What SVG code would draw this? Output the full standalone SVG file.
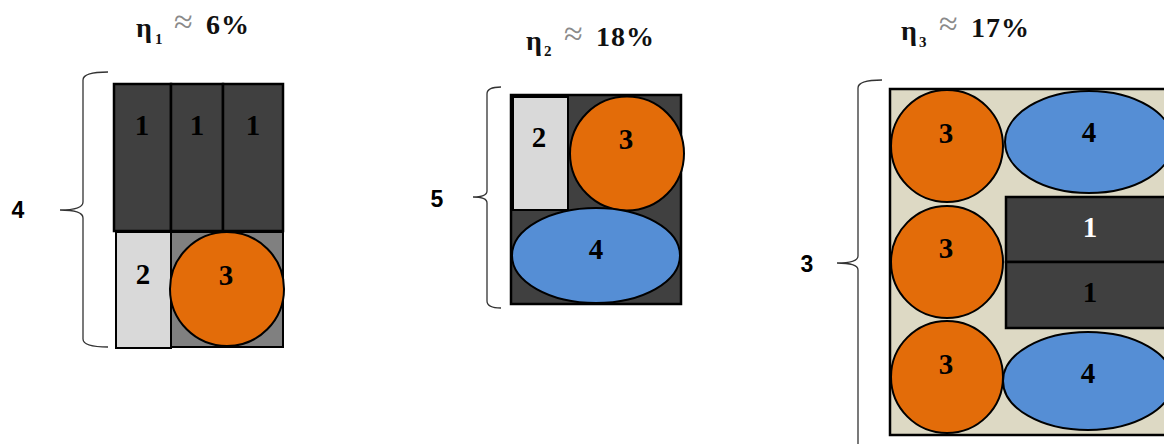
<svg xmlns="http://www.w3.org/2000/svg" width="1164" height="444" viewBox="0 0 1164 444">
<style>
.title{font-family:"Liberation Serif","Times New Roman",serif;font-weight:bold;font-size:28px;fill:#111;letter-spacing:1px}
.sub{font-size:15px}
.approx{fill:#8a8a8a;font-weight:normal;font-size:34px}
.num{font-family:"Liberation Serif","Times New Roman",serif;font-weight:bold;font-size:29px;fill:#000;text-anchor:middle}
.white{fill:#fff}
.side{font-family:"Liberation Sans",Arial,sans-serif;font-weight:bold;font-size:23px;fill:#000;text-anchor:middle}
.dark{fill:#404040;stroke:#000;stroke-width:2.5}
.light{fill:#d9d9d9;stroke:#000;stroke-width:2}
.gray{fill:#808080;stroke:#000;stroke-width:2}
.beige{fill:#ddd9c4;stroke:#000;stroke-width:2.5}
.orange{fill:#e36c09;stroke:#000;stroke-width:2}
.blue{fill:#558ed5;stroke:#000;stroke-width:2}
.brace{fill:none;stroke:#333;stroke-width:1.3}
</style>

<g id="titles">
<text class="title"><tspan x="136" y="37">η</tspan><tspan class="sub" x="155" y="44">1</tspan><tspan class="approx" x="174" y="33">≈</tspan><tspan x="206" y="34">6%</tspan></text>
<text class="title"><tspan x="526" y="50">η</tspan><tspan class="sub" x="544" y="56">2</tspan><tspan class="approx" x="564" y="45">≈</tspan><tspan x="596" y="46">18%</tspan></text>
<text class="title"><tspan x="901" y="40">η</tspan><tspan class="sub" x="919" y="47">3</tspan><tspan class="approx" x="939" y="35">≈</tspan><tspan x="971" y="37">17%</tspan></text>
</g>

<g id="braces">
<path class="brace" d="M108,72 Q83,72 83,80 L83,202 Q83,210 60,210 Q83,210 83,218 L83,339 Q83,347 108,347"/>
<path class="brace" d="M501,87 Q487,87 487,94 L487,191 Q487,197 473,197 Q487,197 487,203 L487,301 Q487,308 501,308"/>
<path class="brace" d="M882,80 Q858,80 858,88 L858,256 Q858,263 837,263 Q858,263 858,270 L858,446"/>
<text class="side" x="18" y="218">4</text>
<text class="side" x="437" y="207">5</text>
<text class="side" x="807" y="272">3</text>
</g>

<g id="panel1">
<rect class="gray" x="171" y="232" width="112" height="115"/>
<rect class="light" x="116" y="232" width="55" height="116"/>
<rect class="dark" x="114" y="84" width="57" height="147"/>
<rect class="dark" x="171" y="84" width="52" height="147"/>
<rect class="dark" x="223" y="84" width="60" height="147"/>
<circle class="orange" cx="227" cy="289" r="57"/>
<text class="num" x="142" y="135">1</text>
<text class="num" x="197" y="135">1</text>
<text class="num" x="253" y="135">1</text>
<text class="num" x="143" y="284">2</text>
<text class="num" x="226" y="285">3</text>
</g>

<g id="panel2">
<rect class="dark" x="511" y="95" width="170" height="209"/>
<rect class="light" x="513" y="97" width="55" height="113"/>
<circle class="orange" cx="627" cy="153.5" r="57"/>
<ellipse class="blue" cx="596" cy="255.5" rx="84" ry="47.5"/>
<text class="num" x="539" y="147">2</text>
<text class="num" x="626" y="149">3</text>
<text class="num" x="596" y="259">4</text>
</g>

<g id="panel3">
<rect class="beige" x="890" y="89" width="290" height="346"/>
<rect class="dark" x="1006" y="197" width="170" height="65"/>
<rect class="dark" x="1006" y="262" width="170" height="66"/>
<circle class="orange" cx="947" cy="146" r="56"/>
<circle class="orange" cx="947" cy="262" r="56"/>
<circle class="orange" cx="947" cy="377" r="56"/>
<ellipse class="blue" cx="1089" cy="142" rx="84" ry="51"/>
<ellipse class="blue" cx="1088" cy="381" rx="85" ry="49"/>
<text class="num" x="946" y="143">3</text>
<text class="num" x="946" y="258">3</text>
<text class="num" x="946" y="374">3</text>
<text class="num" x="1089" y="142">4</text>
<text class="num" x="1088" y="383">4</text>
<text class="num white" x="1090" y="237">1</text>
<text class="num" x="1090" y="302">1</text>
</g>
</svg>
